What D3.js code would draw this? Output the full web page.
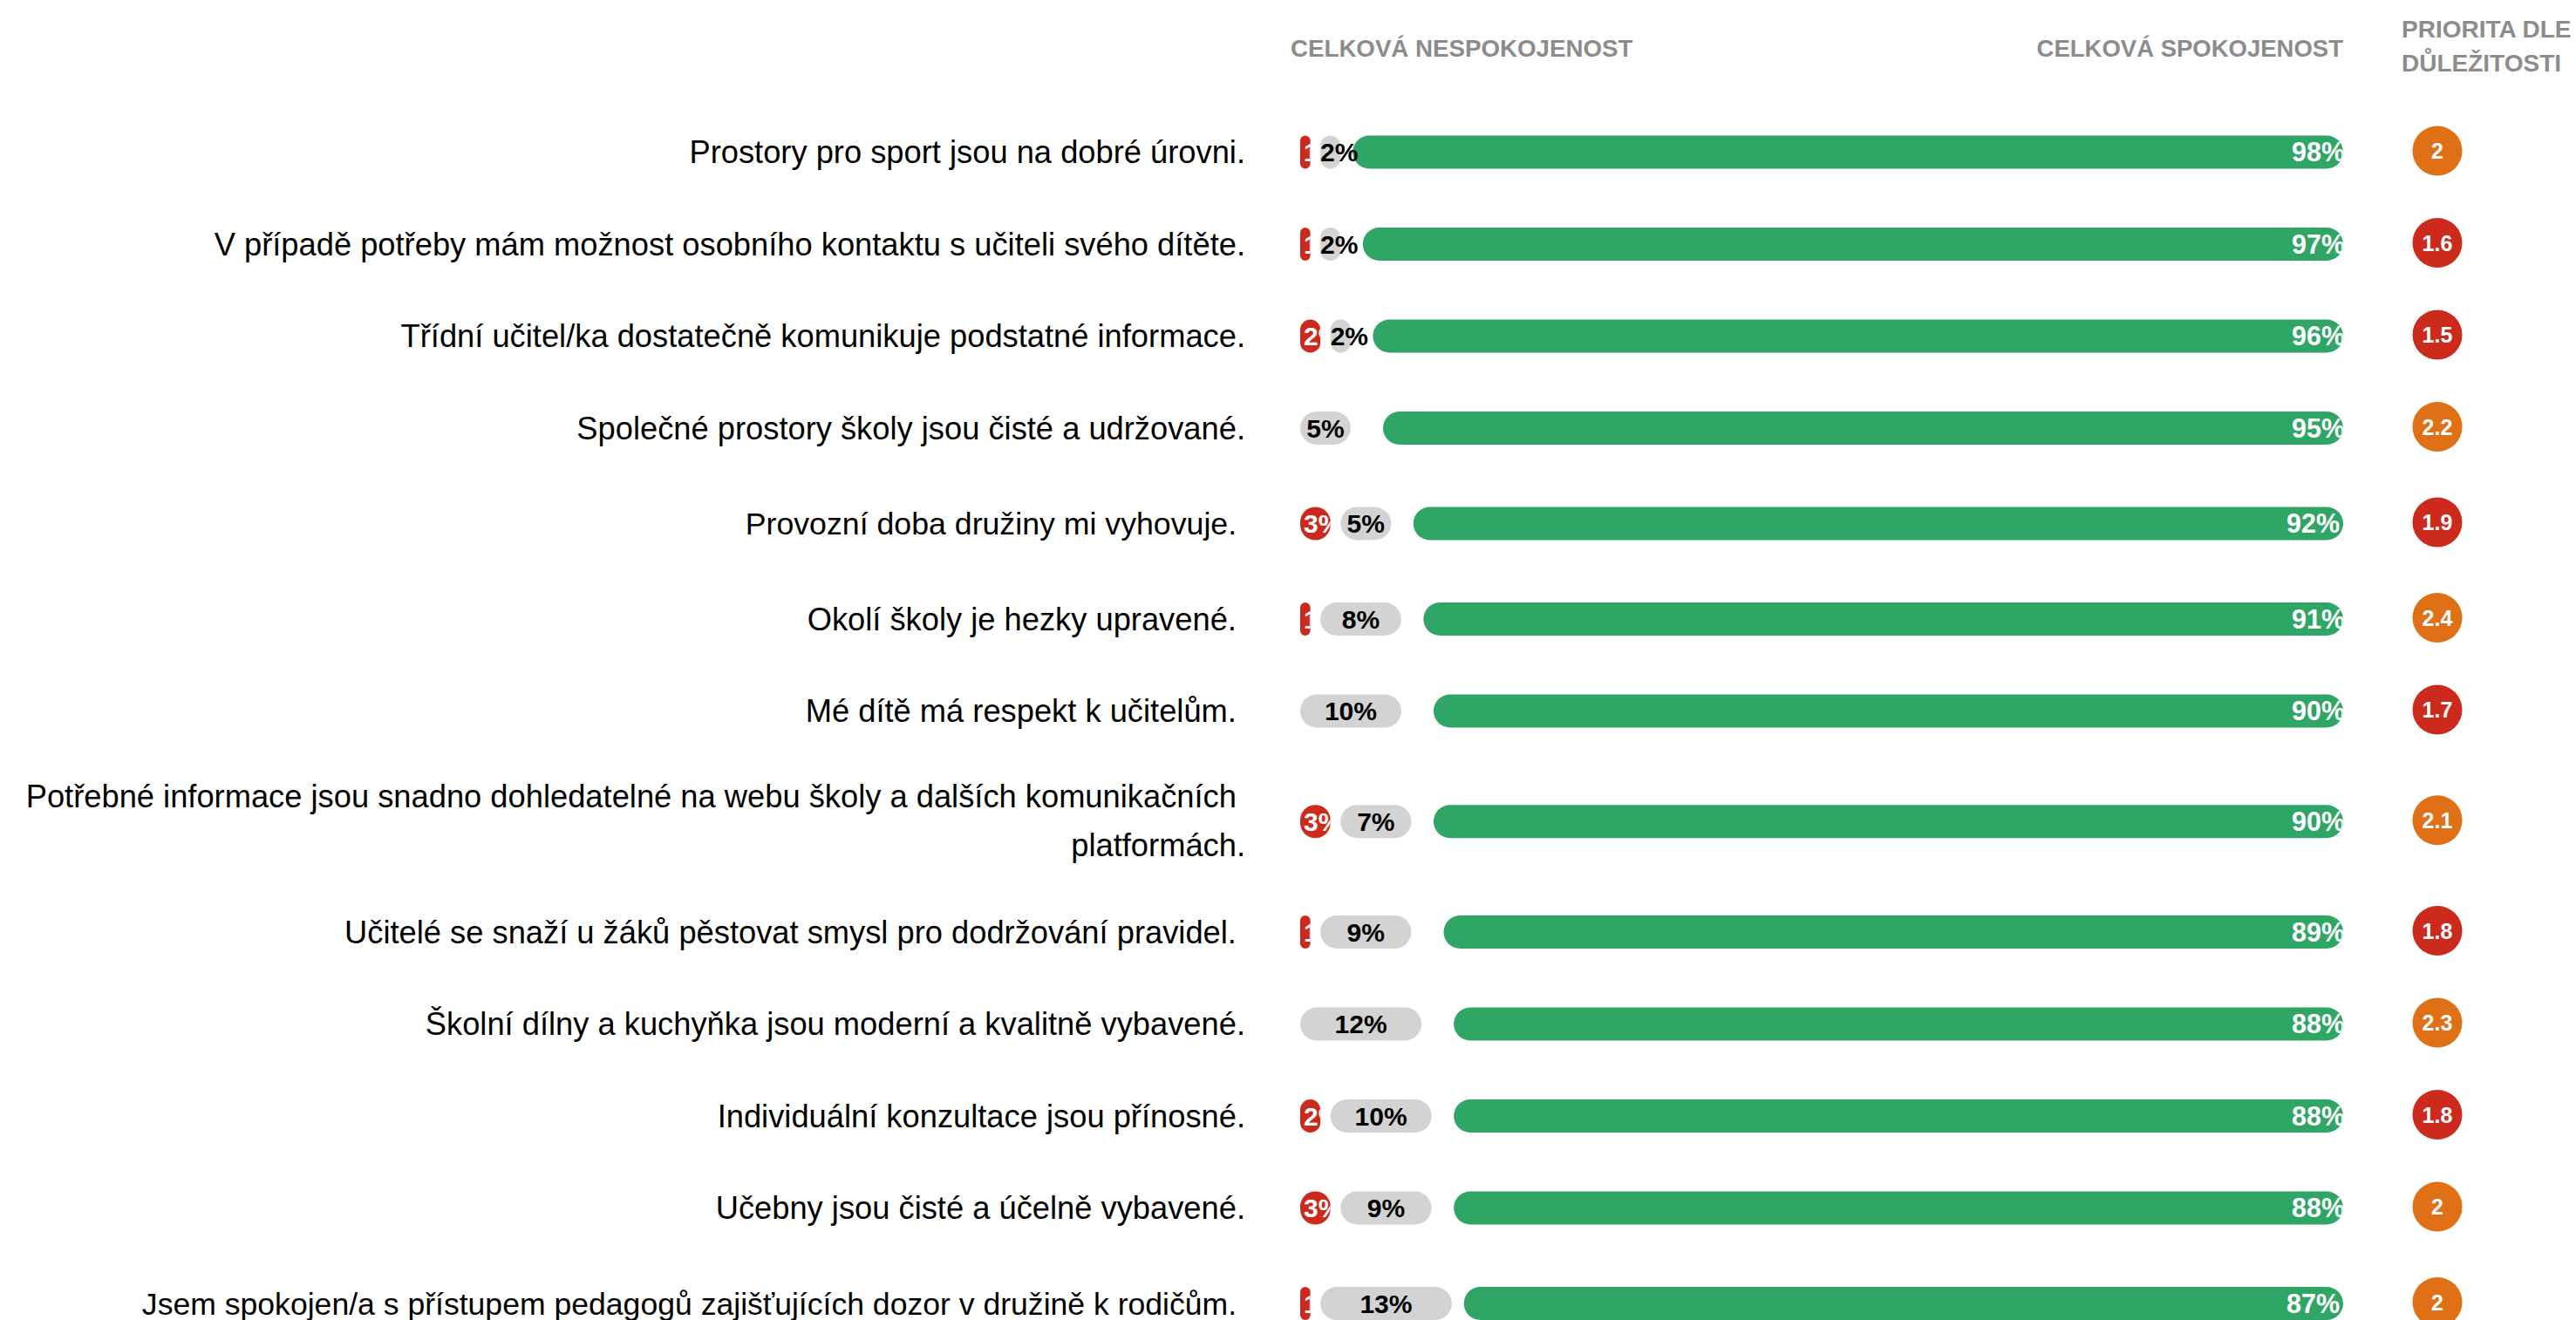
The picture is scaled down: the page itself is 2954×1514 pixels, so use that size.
<!DOCTYPE html>
<html lang="cs">
<head>
<meta charset="utf-8">
<script src="https://cdn.jsdelivr.net/npm/d3@7"></script>
<style>
  html, body { margin: 0; padding: 0; background: #ffffff; }
  svg { display: block; font-family: "Liberation Sans", Arial, sans-serif; }
  text { white-space: pre; }
</style>
</head>
<body>
<script>
// ---------------- DATA ----------------
const categories = [
  "Prostory pro sport jsou na dobré úrovni.",
  "V případě potřeby mám možnost osobního kontaktu s učiteli svého dítěte.",
  "Třídní učitel/ka dostatečně komunikuje podstatné informace.",
  "Společné prostory školy jsou čisté a udržované.",
  "Provozní doba družiny mi vyhovuje. ",
  "Okolí školy je hezky upravené. ",
  "Mé dítě má respekt k učitelům. ",
  "Potřebné informace jsou snadno dohledatelné na webu školy a dalších komunikačních \nplatformách.",
  "Učitelé se snaží u žáků pěstovat smysl pro dodržování pravidel. ",
  "Školní dílny a kuchyňka jsou moderní a kvalitně vybavené.",
  "Individuální konzultace jsou přínosné.",
  "Učebny jsou čisté a účelně vybavené.",
  "Jsem spokojen/a s přístupem pedagogů zajišťujících dozor v družině k rodičům. "
];
const strongDissatisfaction = [1, 1, 2, 0, 3, 1, 0, 3, 1, 0, 2, 3, 1];
const totalDissatisfaction  = [2, 2, 2, 5, 5, 8, 10, 7, 9, 12, 10, 9, 13];
const totalSatisfaction     = [98, 97, 96, 95, 92, 91, 90, 90, 89, 88, 88, 88, 87];
const priority              = [2, 1.6, 1.5, 2.2, 1.9, 2.4, 1.7, 2.1, 1.8, 2.3, 1.8, 2, 2];
const headerDissatisfaction = "CELKOVÁ NESPOKOJENOST";
const headerSatisfaction    = "CELKOVÁ SPOKOJENOST";
const headerPriority        = ["PRIORITA DLE", "DŮLEŽITOSTI"];

// ---------------- LAYOUT ----------------
const W = 2954, H = 1514;
const C = {
  green: "#2fa566", gray: "#d3d3d3", red: "#cc2a1c", orange: "#df7016",
  header: "#8c8c8c"
};
const leftX = 1491;        // start of dissatisfaction pills
const rightX = 2687;       // end of satisfaction bars
const barH = 38;
const labelX = 1428;
const prioX = 2795, prioR = 28.5;
const rowBase = 105.5, extraLine = 42.5, firstCenter = 174.5;
const labelSize = 36.3;
// a few rows in the source use slightly different cell formatting
const rowStyle = { 4: { label: 35.7, pad: 8, valShift: -6 }, 12: { label: 35.6, pad: 8, valShift: -6 } };

const rows = categories.map((c, i) => ({
  i, lines: c.split("\n"),
  red: strongDissatisfaction[i], gray: totalDissatisfaction[i],
  green: totalSatisfaction[i], prio: priority[i],
  st: rowStyle[i] || { label: labelSize, pad: 0, valShift: 0 }
}));
// vertical positions from the row heights
let acc = firstCenter - rowBase / 2;
rows.forEach(r => {
  const h = rowBase + (r.lines.length - 1) * extraLine + r.st.pad;
  r.cy = acc + h / 2;
  acc += h;
});

const w = d3.scaleLinear().domain([0, 100]).range([0, 1159]);

const svg = d3.select("body").append("svg").attr("width", W).attr("height", H);
const defs = svg.append("defs");

function pill(g, x, width, cy, fill) {
  const r = Math.min(width, barH) / 2;
  return g.append("rect").attr("x", x).attr("y", cy - barH / 2)
    .attr("width", width).attr("height", barH).attr("rx", r).attr("ry", r)
    .attr("fill", fill);
}

// headers
svg.append("text").attr("x", 1480).attr("y", 65)
  .attr("font-size", 27.7).attr("font-weight", "bold").attr("fill", C.header)
  .text(headerDissatisfaction);
svg.append("text").attr("x", rightX).attr("y", 65).attr("text-anchor", "end")
  .attr("font-size", 27.5).attr("font-weight", "bold").attr("fill", C.header)
  .text(headerSatisfaction);
svg.append("text").attr("x", 2754).attr("y", 43)
  .attr("font-size", 28).attr("font-weight", "bold").attr("fill", C.header)
  .text(headerPriority[0]);
svg.append("text").attr("x", 2754).attr("y", 82)
  .attr("font-size", 28).attr("font-weight", "bold").attr("fill", C.header)
  .text(headerPriority[1]);

const rowG = svg.selectAll("g.row").data(rows).join("g").attr("class", "row");

rowG.each(function(r) {
  const g = d3.select(this);
  // label
  const lab = g.append("text").attr("font-size", r.st.label).attr("fill", "#000")
    .attr("text-anchor", "end");
  const n = r.lines.length;
  r.lines.forEach((ln, k) => {
    const off = n === 1 ? 0 : (k === 0 ? -29 : 27);
    lab.append("tspan").attr("x", labelX).attr("y", r.cy + off + 12.5).text(ln);
  });

  // green bar
  const gw = w(r.green), gx = rightX - gw;
  const gid = "clipG" + r.i;
  const gr = Math.min(gw, barH) / 2;
  defs.append("clipPath").attr("id", gid).append("rect")
    .attr("x", gx).attr("y", r.cy - barH / 2).attr("width", gw).attr("height", barH)
    .attr("rx", gr).attr("ry", gr);
  pill(g, gx, gw, r.cy, C.green);
  g.append("text").attr("clip-path", `url(#${gid})`)
    .attr("x", rightX + 2 + r.st.valShift).attr("y", r.cy + 10.7).attr("text-anchor", "end")
    .attr("font-size", 30.5).attr("font-weight", "bold").attr("fill", "#fff")
    .text(r.green + "%");

  // red pill
  let grayX = leftX;
  if (r.red > 0) {
    const rw = w(r.red);
    const rid = "clipR" + r.i;
    const rr = Math.min(rw, barH) / 2;
    defs.append("clipPath").attr("id", rid).append("rect")
      .attr("x", leftX).attr("y", r.cy - barH / 2).attr("width", rw).attr("height", barH)
      .attr("rx", rr).attr("ry", rr);
    pill(g, leftX, rw, r.cy, C.red);
    g.append("text").attr("clip-path", `url(#${rid})`)
      .attr("x", leftX + 4).attr("y", r.cy + 10.7)
      .attr("font-size", 30).attr("font-weight", "bold").attr("fill", "#fff")
      .text(r.red + "%");
    grayX = leftX + rw + 11.5;
  }

  // gray pill
  const grw = w(r.gray);
  pill(g, grayX, grw, r.cy, C.gray);
  const gt = g.append("text").attr("y", r.cy + 10.7)
    .attr("font-size", 30).attr("font-weight", "bold").attr("fill", "#000")
    .text(r.gray + "%");
  const tw = gt.node().getComputedTextLength();
  gt.attr("x", Math.max(grayX, grayX + grw / 2 - tw / 2));

  // priority circle
  g.append("circle").attr("cx", prioX).attr("cy", r.cy - 1.5).attr("r", prioR)
    .attr("fill", r.prio < 2 ? C.red : C.orange);
  g.append("text").attr("x", prioX).attr("y", r.cy - 1.5 + 9)
    .attr("text-anchor", "middle").attr("font-size", 25).attr("font-weight", "bold")
    .attr("fill", "#fff").text(String(r.prio));
});
</script>
</body>
</html>
